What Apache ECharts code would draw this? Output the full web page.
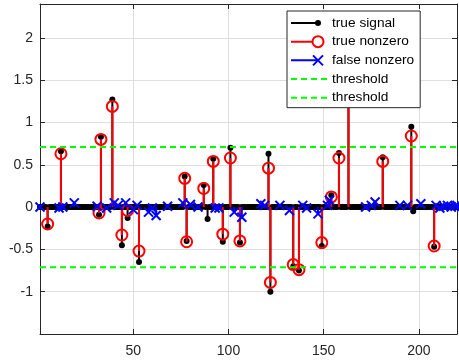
<!DOCTYPE html>
<html>
<head>
<meta charset="utf-8">
<script src="https://cdn.jsdelivr.net/npm/echarts@6/dist/echarts.min.js"></script>
<style>
	html, body { margin: 0; padding: 0; background: #fff; }
	#chart { width: 459px; height: 360px; }
</style>
</head>
<body>
<div id="chart"></div>
<script>
const xRange = [1, 220];
const yRange = [-1.5, 2.4];
const yStep = 0.5;
const xTicks = [50, 100, 150, 200];
const threshold = 0.71;

// true signal, only the nonzero entries (everything else is 0)
const signalIdx = [5, 12, 32, 33, 39, 44, 47, 53, 77, 78, 87, 89, 92, 97, 101, 106, 121, 122, 134, 137, 149, 154, 158, 163, 181, 196, 197, 208];
const signalVal = [-0.23, 0.66, -0.09, 0.83, 1.27, -0.45, -0.13, -0.65, 0.36, -0.40, 0.26, -0.14, 0.57, -0.41, 0.70, -0.42, 0.63, -1.00, -0.70, -0.75, -0.46, 0.14, 0.64, 1.70, 0.59, 0.95, -0.05, -0.47];

// estimates on the true support
const hitIdx = [5, 12, 32, 33, 39, 44, 47, 53, 77, 78, 87, 92, 97, 101, 106, 121, 122, 134, 137, 149, 154, 158, 163, 181, 196, 208];
const hitVal = [-0.20, 0.63, -0.07, 0.80, 1.19, -0.33, -0.04, -0.52, 0.34, -0.41, 0.22, 0.54, -0.32, 0.58, -0.40, 0.46, -0.89, -0.68, -0.74, -0.42, 0.12, 0.58, 1.60, 0.54, 0.84, -0.46];

// estimates off the support
const falseIdx = [1, 11, 13, 19, 31, 36, 40, 42, 46, 50, 52, 58, 60, 62, 68, 76, 80, 84, 93, 95, 103, 107, 117, 119, 127, 132, 139, 141, 147, 152, 153, 172, 175, 177, 190, 194, 201, 209, 211, 213, 215, 217, 219, 220];
const falseVal = [0.00, -0.01, 0.00, 0.05, 0.01, -0.01, 0.05, 0.02, 0.05, -0.03, 0.02, -0.06, -0.01, -0.10, 0.01, 0.05, 0.03, 0.00, -0.01, -0.01, -0.06, -0.12, 0.04, 0.02, 0.02, -0.04, 0.02, -0.01, -0.08, 0.02, 0.08, 0.00, 0.02, 0.06, 0.02, 0.02, 0.04, 0.02, -0.01, 0.01, 0.02, 0.00, 0.01, 0.02];

const font = "'Liberation Sans', Arial, Helvetica, sans-serif",
	axisColor = '#262626',
	gridColor = '#dfdfdf',
	pairs = (idx, val) => idx.map((x, i) => [x, val[i]]),
	signal = [];

for (let x = xRange[0]; x <= xRange[1]; x++) {
	const k = signalIdx.indexOf(x);
	signal.push([x, k < 0 ? 0 : signalVal[k]]);
}

const markers = {
		dot: (p, color) => ({ type: 'circle', shape: { cx: p[0], cy: p[1], r: 3 }, style: { fill: color } }),
		ring: (p, color) => ({
			type: 'circle',
			shape: { cx: p[0], cy: p[1], r: 5.5 },
			style: { fill: 'none', stroke: color, lineWidth: 2 },
		}),
		cross: (p, color) => ({
			type: 'group',
			children: [
				{ type: 'line', shape: { x1: p[0] - 4.5, y1: p[1] - 4.5, x2: p[0] + 4.5, y2: p[1] + 4.5 }, style: { stroke: color, lineWidth: 2 } },
				{ type: 'line', shape: { x1: p[0] - 4.5, y1: p[1] + 4.5, x2: p[0] + 4.5, y2: p[1] - 4.5 }, style: { stroke: color, lineWidth: 2 } },
			],
		}),
	},
	stem = (marker) => (params, api) => {
		const x = api.value(0),
			base = api.coord([x, 0]),
			tip = api.coord([x, api.value(1)]),
			color = api.visual('color');
		return {
			type: 'group',
			children: [
				{ type: 'line', shape: { x1: base[0], y1: base[1], x2: tip[0], y2: tip[1] }, style: { stroke: color, lineWidth: 2 } },
				markers[marker](tip, color),
			],
		};
	},
	stemSeries = (name, color, data, marker) => ({
		type: 'custom',
		name,
		data,
		encode: { x: 0, y: 1 },
		itemStyle: { color },
		renderItem: stem(marker),
		silent: true,
	}),
	thresholdSeries = (name, y) => ({
		type: 'line',
		name,
		data: [[xRange[0], y], [xRange[1], y]],
		symbol: 'none',
		itemStyle: { color: '#00ff00' },
		lineStyle: { color: '#00ff00', width: 2, type: [6, 4] },
		silent: true,
	});

// legend icons in a 36x14 box (the two lone moves pin the box)
const box = 'M0 0 M36 14 ',
	icons = {
		dot: box + 'M0 6 L27 6 L27 8 L0 8 Z M24 7 A3 3 0 1 1 30 7 A3 3 0 1 1 24 7 Z',
		ring: box + 'M0 6 L21 6 L21 8 L0 8 Z M20.5 7 A6.5 6.5 0 1 1 33.5 7 A6.5 6.5 0 1 1 20.5 7 Z M22.5 7 A4.5 4.5 0 1 0 31.5 7 A4.5 4.5 0 1 0 22.5 7 Z',
		cross: box + 'M0 6 L27 6 L27 8 L0 8 Z M21.3 2.7 L22.7 1.3 L32.7 11.3 L31.3 12.7 Z M21.3 11.3 L31.3 1.3 L32.7 2.7 L22.7 12.7 Z',
		dash: box + 'M0 6 L6 6 L6 8 L0 8 Z M10 6 L16 6 L16 8 L10 8 Z M20 6 L26 6 L26 8 L20 8 Z M30 6 L36 6 L36 8 L30 8 Z',
	};

const xAxisBase = {
		type: 'value',
		min: xRange[0],
		max: xRange[1],
		axisLine: { show: true, onZero: false, lineStyle: { color: axisColor, width: 1 } },
		axisTick: { show: true, inside: true, length: 5, customValues: xTicks, lineStyle: { color: axisColor } },
		splitLine: { show: false },
	},
	yAxisBase = {
		type: 'value',
		min: yRange[0],
		max: yRange[1],
		interval: yStep,
		axisLine: { show: true, onZero: false, lineStyle: { color: axisColor, width: 1 } },
		axisTick: { show: true, inside: true, length: 5, lineStyle: { color: axisColor } },
		splitLine: { show: false },
	};

const chart = echarts.init(document.getElementById('chart'), null, { renderer: 'canvas' });

chart.setOption({
	animation: false,
	backgroundColor: '#fff',
	textStyle: { fontFamily: font },
	grid: { left: 40, right: 2, top: 4, bottom: 26, containLabel: false, outerBoundsMode: 'none' },
	xAxis: [
		{
			...xAxisBase,
			position: 'bottom',
			axisLabel: { customValues: xTicks, color: axisColor, fontSize: 14, fontFamily: font, margin: 10 },
			splitLine: { show: true, lineStyle: { color: gridColor, width: 1 } },
		},
		{ ...xAxisBase, position: 'top', axisLabel: { show: false } },
	],
	yAxis: [
		{
			...yAxisBase,
			position: 'left',
			axisLabel: { color: axisColor, fontSize: 14, fontFamily: font, margin: 7, showMinLabel: false, showMaxLabel: false },
			splitLine: { show: true, lineStyle: { color: gridColor, width: 1 } },
		},
		{ ...yAxisBase, position: 'right', axisLabel: { show: false } },
	],
	legend: {
		orient: 'vertical',
		left: 287,
		top: 11,
		itemWidth: 36,
		itemHeight: 14,
		itemGap: 4.67,
		padding: [5, 6, 3, 4],
		backgroundColor: '#fff',
		borderColor: axisColor,
		borderWidth: 1,
		borderRadius: 0,
		selectedMode: false,
		itemStyle: { borderWidth: 0 },
		textStyle: { fontSize: 13.7, lineHeight: 14, color: '#000', fontFamily: font },
		formatter: (name) => (name.startsWith('threshold') ? 'threshold' : name),
		data: [
			{ name: 'true signal', icon: 'path://' + icons.dot },
			{ name: 'true nonzero', icon: 'path://' + icons.ring },
			{ name: 'false nonzero', icon: 'path://' + icons.cross },
			{ name: 'threshold+', icon: 'path://' + icons.dash },
			{ name: 'threshold-', icon: 'path://' + icons.dash },
		],
	},
	series: [
		stemSeries('true signal', '#000000', signal, 'dot'),
		stemSeries('true nonzero', '#ff0000', pairs(hitIdx, hitVal), 'ring'),
		stemSeries('false nonzero', '#0000ff', pairs(falseIdx, falseVal), 'cross'),
		thresholdSeries('threshold+', threshold),
		thresholdSeries('threshold-', -threshold),
	],
});
</script>
</body>
</html>
